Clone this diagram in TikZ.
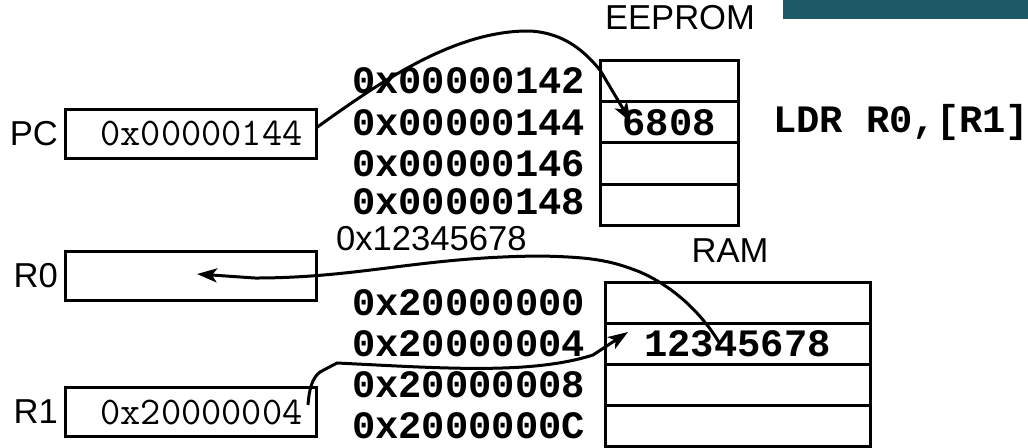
\documentclass[tikz,border=0pt]{standalone}
\usepackage{fontspec}
\setmainfont{Liberation Sans}
\newfontfamily\addrmono{Liberation Mono}
\usepackage{tikz}
\usetikzlibrary{positioning, arrows.meta, calc}
\definecolor{barteal}{HTML}{1B5A66}
\newcommand{\addrfont}{\addrmono\bfseries\fontsize{19.4pt}{22pt}\selectfont}
\newcommand{\regfont}{\ttfamily\fontsize{19.6pt}{23pt}\selectfont}
\newcommand{\lblfont}{\rmfamily\fontsize{17.3pt}{20pt}\selectfont}

\begin{document}
\begin{tikzpicture}[
                x=0.5pt, y=-0.5pt,
                cell/.style={draw=black, line width=1.5pt, rectangle, outer sep=0pt, inner sep=0pt, minimum width=69pt, minimum height=20.6pt, font=\addrfont},
                ramcell/.style={cell, minimum width=132.5pt, minimum height=20.5pt},
                reg/.style={draw=black, line width=1.5pt, rectangle, outer sep=0pt, minimum width=125.5pt, minimum height=24.5pt, text width=112pt, align=right, font=\regfont},
                addr/.style={font=\addrfont},
                lbl/.style={font=\lblfont},
                conn/.style={line width=1.5pt, -{Stealth[length=10pt, width=7pt, inset=2.5pt]}}
            ]
            \useasboundingbox (0,0) rectangle (1028,447);
            \fill[barteal] (783,0) rectangle (1028,19);

            % EEPROM
            \node[cell] (e1) at (669,81) {};
            \node[cell, below=0pt of e1] (e2) {6808};
            \node[cell, below=0pt of e2] (e3) {};
            \node[cell, below=0pt of e3] (e4) {};
            \node[lbl, above=11.7pt of e1, xshift=5.5pt] (eeprom) {EEPROM};
            \node[addr, left=4pt of e1] (ea1) {0x00000142};
            \node[addr, left=4pt of e2] (ea2) {0x00000144};
            \node[addr, left=4pt of e3] (ea3) {0x00000146};
            \node[addr, left=4pt of e4, yshift=1.5pt] (ea4) {0x00000148};
            \node[addr, right=14pt of e2] (instr) {LDR R0,[R1]};

            % RAM
            \node[ramcell] (m1) at (737.5,303) {};
            \node[ramcell, below=0pt of m1] (m2) {12345678};
            \node[ramcell, below=0pt of m2] (m3) {};
            \node[ramcell, below=0pt of m3] (m4) {};
            \node[lbl, above=6.7pt of m1, xshift=-3.75pt] (ram) {RAM};
            \node[addr, left=6.5pt of m1] (ma1) {0x20000000};
            \node[addr, left=6.5pt of m2] (ma2) {0x20000004};
            \node[addr, left=6.5pt of m3] (ma3) {0x20000008};
            \node[addr, left=6.5pt of m4] (ma4) {0x2000000C};

            % Register
            \node[reg] (pc) at (190.5,133.5) {0x00000144};
            \node[reg] (r0) at (190.5,275.5) {};
            \node[reg] (r1) at (190.5,412) {0x20000004};
            \node[lbl, left=0pt of pc] (pclbl) {PC};
            \node[lbl, left=0pt of r0] (r0lbl) {R0};
            \node[lbl, left=0pt of r1] (r1lbl) {R1};
            \node[lbl, anchor=base west] (val) at (329,250) {0x12345678};

            % Pfeile
            \draw[conn] ([yshift=2.75pt]pc.east) .. controls (380,82) and (455,30) .. (530,31) .. controls (565,33) and (585,52) .. (600,70) -- ([xshift=15.5pt]e2.west);
            \draw[conn] ([xshift=-8.75pt]m2.center) .. controls (700,310) and (670,285) .. (640,272) .. controls (610,260) and (590,257) .. (540,256) .. controls (420,257) and (360,278) .. (255,278) -- ([xshift=3.25pt, yshift=0.75pt]r0.center);
            \draw[conn] ([xshift=-4pt, yshift=3.5pt]r1.east) .. controls (309,390) and (312,378) .. (320,372) -- (337,363) .. controls (440,368) and (530,375) .. (593,355) -- ([xshift=11.5pt, yshift=6pt]m2.west);

        \end{tikzpicture}
\end{document}
